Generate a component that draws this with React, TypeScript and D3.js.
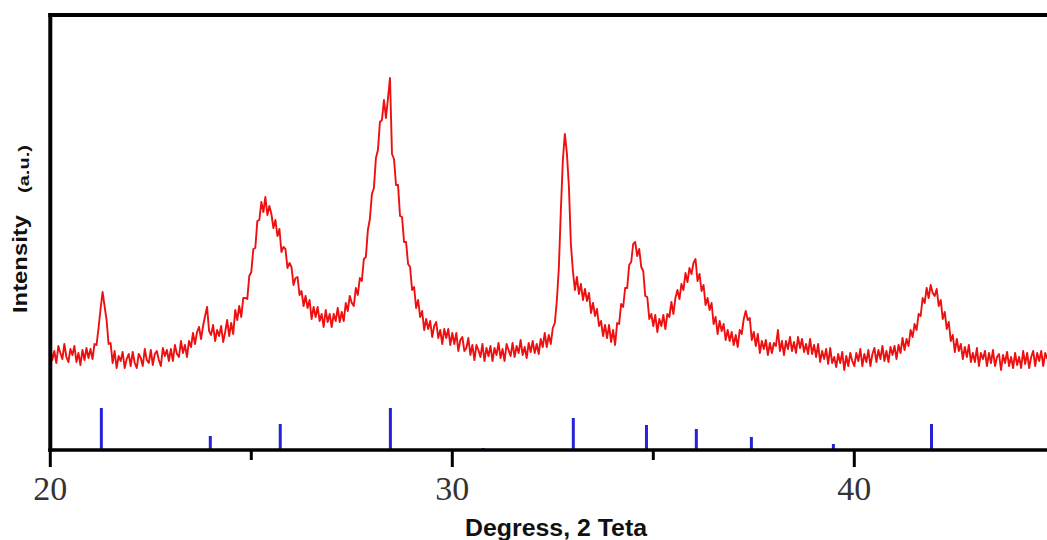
import React from "react";
import * as d3 from "d3";

// 2θ grid of the scan (degrees), step 0.05°
const scanStart = 20.0;
const scanStep = 0.05;

const intensity: number[] = [
  // 20.00 – 20.95
  103, 90, 99, 87, 104, 97, 91, 106, 93, 88, 101, 95, 104, 88, 97, 85, 100, 90, 102, 92,
  // 21.00 – 21.95
  101, 91, 106, 105, 122, 141, 158, 144, 130, 106, 107, 87, 99, 82, 94, 89, 98, 82, 91, 96,
  // 22.00 – 22.95
  84, 98, 87, 82, 96, 92, 84, 101, 90, 87, 100, 85, 96, 99, 90, 84, 102, 94, 100, 89,
  // 23.00 – 23.95
  101, 89, 105, 96, 93, 109, 97, 105, 93, 109, 103, 117, 106, 118, 123, 111, 124, 134, 143, 119,
  // 24.00 – 24.95
  115, 125, 109, 120, 114, 124, 108, 118, 130, 114, 127, 116, 140, 130, 144, 133, 152, 152, 151, 174,
  // 25.00 – 25.95
  178, 201, 202, 229, 230, 248, 238, 253, 235, 244, 236, 222, 230, 214, 221, 198, 203, 201, 182, 187,
  // 26.00 – 26.95
  183, 165, 172, 173, 155, 159, 144, 154, 142, 150, 131, 143, 133, 143, 129, 136, 123, 140, 128, 136,
  // 27.00 – 27.95
  123, 136, 129, 142, 128, 138, 129, 147, 139, 154, 147, 144, 162, 155, 172, 169, 191, 193, 220, 231,
  // 28.00 – 28.95
  256, 262, 292, 300, 328, 330, 350, 332, 352, 372, 296, 291, 265, 265, 234, 233, 208, 208, 186, 183,
  // 29.00 – 29.95
  160, 163, 142, 150, 133, 139, 120, 131, 121, 129, 113, 124, 128, 112, 120, 106, 121, 112, 121, 105,
  // 30.00 – 30.95
  117, 106, 117, 99, 110, 113, 99, 102, 112, 95, 105, 90, 105, 100, 93, 106, 89, 102, 94, 104,
  // 31.00 – 31.95
  89, 102, 95, 107, 92, 101, 89, 106, 100, 94, 107, 93, 104, 97, 110, 95, 103, 92, 107, 98,
  // 32.00 – 32.95
  109, 97, 106, 96, 111, 103, 117, 103, 115, 106, 122, 127, 149, 182, 239, 290, 316, 297, 264, 206,
  // 33.00 – 33.95
  179, 160, 173, 156, 166, 150, 161, 149, 157, 137, 147, 134, 141, 124, 129, 114, 125, 112, 125, 108,
  // 34.00 – 34.95
  120, 105, 127, 126, 146, 143, 162, 162, 185, 188, 206, 208, 194, 201, 183, 179, 154, 153, 131, 136,
  // 35.00 – 35.95
  124, 135, 118, 131, 124, 135, 121, 136, 133, 148, 136, 152, 160, 151, 166, 160, 177, 168, 182, 176,
  // 36.00 – 36.95
  187, 191, 169, 176, 159, 165, 145, 152, 140, 147, 126, 133, 116, 129, 119, 126, 110, 120, 109, 118,
  // 37.00 – 37.95
  105, 115, 103, 120, 116, 131, 139, 130, 132, 110, 118, 104, 116, 97, 109, 101, 110, 95, 107, 97,
  // 38.00 – 38.95
  107, 104, 120, 99, 109, 95, 109, 101, 113, 99, 108, 97, 113, 102, 111, 98, 106, 96, 111, 96,
  // 39.00 – 39.95
  105, 93, 106, 88, 99, 91, 101, 86, 102, 87, 93, 83, 96, 87, 98, 80, 94, 84, 97, 89,
  // 40.00 – 40.95
  84, 97, 89, 101, 84, 96, 88, 100, 84, 96, 102, 88, 100, 91, 104, 89, 99, 88, 103, 95,
  // 41.00 – 41.95
  104, 91, 105, 97, 112, 100, 111, 104, 120, 113, 126, 120, 136, 134, 152, 147, 162, 152, 165, 157,
  // 42.00 – 42.95
  154, 161, 144, 150, 131, 138, 121, 128, 109, 115, 98, 111, 99, 106, 91, 103, 93, 105, 88, 97,
  // 43.00 – 43.95
  88, 102, 84, 97, 91, 99, 84, 97, 87, 100, 84, 93, 96, 80, 95, 87, 98, 84, 93, 82,
  // 44.00 – 44.80
  97, 85, 93, 82, 99, 86, 97, 82, 93, 99, 84, 97, 89, 99, 84, 97, 91,
];

// Reference (standard) reflection positions and relative intensities
const refAngles: number[] = [21.27, 23.98, 25.72, 28.46, 30.77, 33.01, 34.83, 36.07, 37.44, 39.48, 41.92];
const refHeights: number[] = [42, 14, 26, 42, 2, 32, 25, 21, 13, 6, 26];

const majorTicks: number[] = [20, 30, 40];
const minorTicks: number[] = [25, 35];

const xLabel = "Degress, 2 Teta";
const yLabel = "Intensity";
const yUnit = "(a.u.)";

export default function App() {
  const W = 1047;
  const H = 540;
  const axisY = 450;
  const topY = 15;
  const leftX = 50.3;

  const x = d3.scaleLinear().domain([20, 40]).range([leftX, 854.3]);
  const y = d3.scaleLinear().domain([0, 435]).range([axisY, topY]);

  const pts: [number, number][] = intensity.map((v, i) => [scanStart + i * scanStep, v]);
  const line = d3
    .line<[number, number]>()
    .x((d) => x(d[0]))
    .y((d) => y(d[1]));

  return (
    <svg
      width={W}
      height={H}
      style={{ position: "absolute", left: 0, top: 0, background: "#fff" }}
    >
      {/* spectrum */}
      <path d={line(pts) || ""} fill="none" stroke="#ee1010" strokeWidth={1.9} strokeLinejoin="round" />

      {/* reference sticks */}
      {refAngles.map((a, i) => (
        <line
          key={i}
          x1={x(a)}
          x2={x(a)}
          y1={y(0)}
          y2={y(refHeights[i])}
          stroke="#2424d4"
          strokeWidth={3}
        />
      ))}

      {/* frame */}
      <line x1={leftX} x2={leftX} y1={topY - 2} y2={axisY + 2} stroke="#000" strokeWidth={4} />
      <line x1={leftX - 2} x2={W} y1={topY} y2={topY} stroke="#000" strokeWidth={4} />
      <line x1={leftX - 2} x2={W} y1={axisY} y2={axisY} stroke="#000" strokeWidth={3.5} />

      {/* ticks */}
      {majorTicks.map((t) => (
        <g key={"M" + t}>
          <line x1={x(t)} x2={x(t)} y1={axisY} y2={467} stroke="#000" strokeWidth={3} />
          <text
            x={x(t)}
            y={500}
            textAnchor="middle"
            fontFamily="'Liberation Serif', 'Times New Roman', serif"
            fontSize={34}
            fill="#333"
          >
            {t}
          </text>
        </g>
      ))}
      {minorTicks.map((t) => (
        <line key={"m" + t} x1={x(t)} x2={x(t)} y1={axisY} y2={460} stroke="#000" strokeWidth={3} />
      ))}

      {/* axis titles */}
      <text
        x={556}
        y={536}
        textAnchor="middle"
        fontFamily="'Liberation Sans', Arial, sans-serif"
        fontWeight="bold"
        fontSize={23}
        textLength={182}
        lengthAdjust="spacingAndGlyphs"
        fill="#111"
      >
        {xLabel}
      </text>
      <text
        transform="translate(27,264) rotate(-90)"
        textAnchor="middle"
        fontFamily="'Liberation Sans', Arial, sans-serif"
        fontWeight="bold"
        fontSize={20}
        textLength={98}
        lengthAdjust="spacingAndGlyphs"
        fill="#111"
      >
        {yLabel}
      </text>
      <text
        transform="translate(29,169) rotate(-90)"
        textAnchor="middle"
        fontFamily="'Liberation Sans', Arial, sans-serif"
        fontWeight="bold"
        fontSize={14}
        textLength={48}
        lengthAdjust="spacingAndGlyphs"
        fill="#111"
      >
        {yUnit}
      </text>
    </svg>
  );
}
